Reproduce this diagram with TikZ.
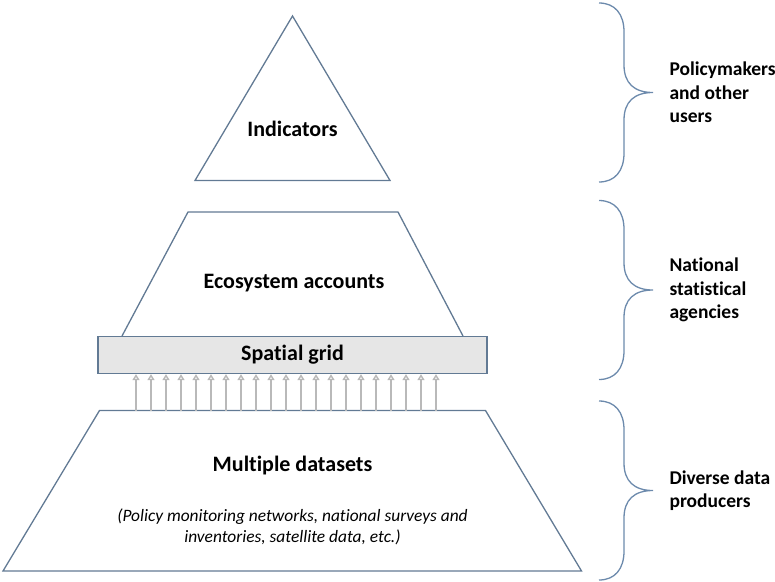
\documentclass[tikz,border=0pt]{standalone}
\usepackage{fontspec}
\setmainfont{Carlito}[Ligatures=NoCommon]
\usetikzlibrary{arrows.meta,positioning,calc}

\definecolor{edgeblue}{RGB}{98,122,148}
\definecolor{braceblue}{RGB}{108,138,172}
\definecolor{gridfill}{RGB}{230,230,230}
\definecolor{feedgray}{RGB}{185,185,185}

% curly brace on the right, #1 = top y, #2 = name of its tip
\newcommand{\rolebrace}[2]{%
  \begin{scope}[yshift=-#1pt]
  \draw[bracestyle] (599,0) .. controls (615,0) and (624,11) .. (624,29)
    -- (624,62) .. controls (624,80) and (634,89.5) .. (653,89.5) coordinate (#2)
    .. controls (634,89.5) and (624,99) .. (624,117) -- (624,150)
    .. controls (624,168) and (615,179) .. (599,179);
  \end{scope}}

\begin{document}
\begin{tikzpicture}[x=1pt,y=-1pt,
  layer/.style={draw=edgeblue, line width=1.3pt, line join=miter},
  bracestyle/.style={draw=braceblue, line width=1.3pt},
  title/.style={font=\fontsize{22}{26}\selectfont\bfseries},
  role/.style={font=\fontsize{19.5}{23.5}\selectfont\bfseries, align=left, anchor=west},
  note/.style={font=\fontsize{17.4}{21.5}\selectfont\itshape, align=center},
  feed/.style={draw=feedgray, line width=1.4pt, -{Triangle[open, width=7pt, length=6pt]}}]
\useasboundingbox (0,0) rectangle (775,581);

% pyramid layers
\draw[layer] (195,180.5) -- (292.5,16) -- (390,180.5) -- cycle;
\draw[layer] (122,336) -- (188,212) -- (398,212) -- (463,336);
\draw[layer] (3,571) -- (99.5,410.5) -- (485.5,410.5) -- (581.5,571) -- cycle;
\node[draw=edgeblue, line width=1.3pt, fill=gridfill, minimum width=389pt,
  minimum height=37pt, inner sep=0pt, title] (grid) at (292.5,355) {Spatial grid};

% labels
\node[title] (indicators) at (292.5,129) {Indicators};
\node[title] (accounts) at (294,283) {Ecosystem accounts};
\node[title] (datasets) at (292.5,466) {Multiple datasets};
\node[note, below=26pt of datasets] (sources) {(Policy monitoring networks, national surveys and\\inventories, satellite data, etc.)};

% arrows into the grid
\coordinate (base) at (136,410.5);
\foreach \i in {0,...,20}
  \draw[feed] ([xshift=15*\i pt]base) -- ([xshift=15*\i pt]base |- grid.south);

% braces and roles
\rolebrace{3}{usertip}
\rolebrace{200.5}{agencytip}
\rolebrace{401}{producertip}
\node[role, right=13pt of usertip] (users) {Policymakers\\and other\\users};
\node[role, right=13pt of agencytip] (agencies) {National\\statistical\\agencies};
\node[role, right=13pt of producertip] (producers) {Diverse data\\producers};
\end{tikzpicture}
\end{document}
